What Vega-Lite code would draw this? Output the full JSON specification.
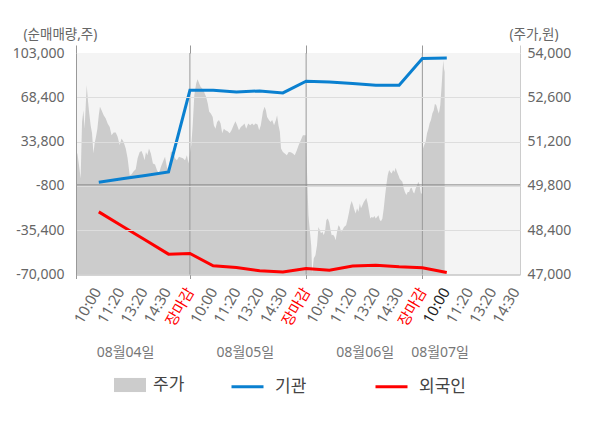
{
  "$schema": "https://vega.github.io/schema/vega-lite/v6.json",
  "autosize": {"type": "none"},
  "width": 444,
  "height": 221.5,
  "padding": {"left": 76, "top": 53, "right": 80, "bottom": 153.5},
  "background": "white",
  "config": {
    "font": "Noto Sans, Noto Sans CJK KR",
    "view": {"fill": "#f4f4f4", "stroke": null},
    "axis": {"labelFont": "Noto Sans, Noto Sans CJK KR", "titleFont": "Noto Sans, Noto Sans CJK KR"},
    "legend": {"labelFont": "Noto Sans, Noto Sans CJK KR"}
  },
  "datasets": {
    "price": [
      {"u":0.12,"p":50820,"s":"주가"},{"u":0.16,"p":50820,"s":"주가"},{"u":0.23,"p":50450,"s":"주가"},{"u":0.30,"p":50030,"s":"주가"},{"u":0.36,"p":51820,"s":"주가"},{"u":0.42,"p":52190,"s":"주가"},{"u":0.47,"p":51610,"s":"주가"},{"u":0.53,"p":52510,"s":"주가"},{"u":0.56,"p":52980,"s":"주가"},{"u":0.62,"p":52450,"s":"주가"},{"u":0.67,"p":52090,"s":"주가"},{"u":0.73,"p":51720,"s":"주가"},{"u":0.79,"p":51460,"s":"주가"},{"u":0.85,"p":50820,"s":"주가"},{"u":0.90,"p":51140,"s":"주가"},{"u":0.96,"p":51350,"s":"주가"},{"u":1.02,"p":51610,"s":"주가"},{"u":1.08,"p":52030,"s":"주가"},{"u":1.13,"p":52300,"s":"주가"},{"u":1.20,"p":52190,"s":"주가"},{"u":1.29,"p":52030,"s":"주가"},{"u":1.38,"p":51930,"s":"주가"},{"u":1.46,"p":51770,"s":"주가"},{"u":1.55,"p":51660,"s":"주가"},{"u":1.63,"p":51400,"s":"주가"},{"u":1.72,"p":51490,"s":"주가"},{"u":1.81,"p":51490,"s":"주가"},{"u":1.89,"p":51350,"s":"주가"},{"u":1.98,"p":51090,"s":"주가"},{"u":2.06,"p":51300,"s":"주가"},{"u":2.15,"p":51190,"s":"주가"},{"u":2.24,"p":50980,"s":"주가"},{"u":2.32,"p":50670,"s":"주가"},{"u":2.41,"p":50140,"s":"주가"},{"u":2.49,"p":50170,"s":"주가"},{"u":2.58,"p":50260,"s":"주가"},{"u":2.67,"p":50330,"s":"주가"},{"u":2.75,"p":50670,"s":"주가"},{"u":2.84,"p":50870,"s":"주가"},{"u":2.92,"p":50900,"s":"주가"},{"u":2.99,"p":50770,"s":"주가"},{"u":3.05,"p":50610,"s":"주가"},{"u":3.11,"p":50870,"s":"주가"},{"u":3.17,"p":50770,"s":"주가"},{"u":3.24,"p":50980,"s":"주가"},{"u":3.32,"p":50820,"s":"주가"},{"u":3.41,"p":50510,"s":"주가"},{"u":3.50,"p":50480,"s":"주가"},{"u":3.58,"p":50300,"s":"주가"},{"u":3.67,"p":50190,"s":"주가"},{"u":3.75,"p":50400,"s":"주가"},{"u":3.84,"p":50560,"s":"주가"},{"u":3.93,"p":50720,"s":"주가"},{"u":4.01,"p":50400,"s":"주가"},{"u":4.10,"p":50260,"s":"주가"},{"u":4.18,"p":50880,"s":"주가"},{"u":4.27,"p":50880,"s":"주가"},{"u":4.36,"p":50670,"s":"주가"},{"u":4.44,"p":50610,"s":"주가"},{"u":4.53,"p":50720,"s":"주가"},{"u":4.61,"p":50700,"s":"주가"},{"u":4.70,"p":50670,"s":"주가"},{"u":4.79,"p":50610,"s":"주가"},{"u":4.87,"p":50770,"s":"주가"},{"u":4.94,"p":50510,"s":"주가"},{"u":5.00,"p":50850,"s":"주가"},
      {"u":5.06,"p":51090,"s":"주가"},{"u":5.12,"p":51720,"s":"주가"},{"u":5.19,"p":52670,"s":"주가"},{"u":5.27,"p":53040,"s":"주가"},{"u":5.33,"p":53170,"s":"주가"},{"u":5.40,"p":53040,"s":"주가"},{"u":5.46,"p":52930,"s":"주가"},{"u":5.53,"p":52880,"s":"주가"},{"u":5.61,"p":52770,"s":"주가"},{"u":5.70,"p":52610,"s":"주가"},{"u":5.77,"p":52400,"s":"주가"},{"u":5.83,"p":52140,"s":"주가"},{"u":5.90,"p":52090,"s":"주가"},{"u":5.98,"p":51980,"s":"주가"},{"u":6.03,"p":51720,"s":"주가"},{"u":6.10,"p":51610,"s":"주가"},{"u":6.17,"p":51820,"s":"주가"},{"u":6.25,"p":51880,"s":"주가"},{"u":6.32,"p":51770,"s":"주가"},{"u":6.39,"p":51460,"s":"주가"},{"u":6.46,"p":51610,"s":"주가"},{"u":6.53,"p":51560,"s":"주가"},{"u":6.62,"p":51530,"s":"주가"},{"u":6.71,"p":51460,"s":"주가"},{"u":6.79,"p":51560,"s":"주가"},{"u":6.88,"p":51720,"s":"주가"},{"u":6.96,"p":51840,"s":"주가"},{"u":7.03,"p":51720,"s":"주가"},{"u":7.11,"p":51560,"s":"주가"},{"u":7.19,"p":51660,"s":"주가"},{"u":7.28,"p":51720,"s":"주가"},{"u":7.35,"p":51770,"s":"주가"},{"u":7.42,"p":51610,"s":"주가"},{"u":7.51,"p":51770,"s":"주가"},{"u":7.59,"p":51720,"s":"주가"},{"u":7.68,"p":51770,"s":"주가"},{"u":7.75,"p":51720,"s":"주가"},{"u":7.82,"p":51770,"s":"주가"},{"u":7.91,"p":51740,"s":"주가"},{"u":7.98,"p":51560,"s":"주가"},{"u":8.05,"p":51720,"s":"주가"},{"u":8.14,"p":52140,"s":"주가"},{"u":8.21,"p":52300,"s":"주가"},{"u":8.27,"p":52190,"s":"주가"},{"u":8.32,"p":51980,"s":"주가"},{"u":8.40,"p":51880,"s":"주가"},{"u":8.47,"p":51820,"s":"주가"},{"u":8.54,"p":51880,"s":"주가"},{"u":8.62,"p":51720,"s":"주가"},{"u":8.70,"p":51880,"s":"주가"},{"u":8.75,"p":52030,"s":"주가"},{"u":8.81,"p":51720,"s":"주가"},{"u":8.87,"p":51510,"s":"주가"},{"u":8.92,"p":50980,"s":"주가"},{"u":9.00,"p":50870,"s":"주가"},{"u":9.08,"p":50820,"s":"주가"},{"u":9.17,"p":50770,"s":"주가"},{"u":9.25,"p":50870,"s":"주가"},{"u":9.34,"p":50860,"s":"주가"},{"u":9.43,"p":50820,"s":"주가"},{"u":9.51,"p":50770,"s":"주가"},{"u":9.60,"p":50930,"s":"주가"},{"u":9.68,"p":51090,"s":"주가"},{"u":9.77,"p":51240,"s":"주가"},{"u":9.86,"p":51400,"s":"주가"},{"u":9.94,"p":51400,"s":"주가"},{"u":9.99,"p":51400,"s":"주가"},
      {"u":10.04,"p":50190,"s":"주가"},{"u":10.10,"p":48870,"s":"주가"},{"u":10.17,"p":48300,"s":"주가"},{"u":10.22,"p":47900,"s":"주가"},{"u":10.26,"p":47050,"s":"주가"},{"u":10.33,"p":47510,"s":"주가"},{"u":10.40,"p":47610,"s":"주가"},{"u":10.47,"p":47930,"s":"주가"},{"u":10.53,"p":48500,"s":"주가"},{"u":10.59,"p":48400,"s":"주가"},{"u":10.64,"p":48300,"s":"주가"},{"u":10.70,"p":48350,"s":"주가"},{"u":10.76,"p":48240,"s":"주가"},{"u":10.82,"p":48400,"s":"주가"},{"u":10.87,"p":48720,"s":"주가"},{"u":10.93,"p":48770,"s":"주가"},{"u":10.99,"p":48660,"s":"주가"},{"u":11.05,"p":48400,"s":"주가"},{"u":11.10,"p":48240,"s":"주가"},{"u":11.16,"p":48260,"s":"주가"},{"u":11.22,"p":48190,"s":"주가"},{"u":11.27,"p":48080,"s":"주가"},{"u":11.33,"p":48350,"s":"주가"},{"u":11.39,"p":48560,"s":"주가"},{"u":11.45,"p":48500,"s":"주가"},{"u":11.50,"p":48350,"s":"주가"},{"u":11.56,"p":48400,"s":"주가"},{"u":11.63,"p":48500,"s":"주가"},{"u":11.72,"p":48560,"s":"주가"},{"u":11.79,"p":48770,"s":"주가"},{"u":11.85,"p":48980,"s":"주가"},{"u":11.90,"p":49190,"s":"주가"},{"u":11.96,"p":49320,"s":"주가"},{"u":12.02,"p":49190,"s":"주가"},{"u":12.08,"p":49030,"s":"주가"},{"u":12.13,"p":48930,"s":"주가"},{"u":12.19,"p":49090,"s":"주가"},{"u":12.25,"p":48980,"s":"주가"},{"u":12.31,"p":49240,"s":"주가"},{"u":12.36,"p":49090,"s":"주가"},{"u":12.42,"p":49190,"s":"주가"},{"u":12.48,"p":49290,"s":"주가"},{"u":12.53,"p":49350,"s":"주가"},{"u":12.59,"p":49420,"s":"주가"},{"u":12.65,"p":49240,"s":"주가"},{"u":12.71,"p":48980,"s":"주가"},{"u":12.76,"p":48770,"s":"주가"},{"u":12.82,"p":48820,"s":"주가"},{"u":12.88,"p":48790,"s":"주가"},{"u":12.94,"p":48850,"s":"주가"},{"u":12.99,"p":48770,"s":"주가"},{"u":13.05,"p":48820,"s":"주가"},{"u":13.11,"p":48870,"s":"주가"},{"u":13.17,"p":48720,"s":"주가"},{"u":13.22,"p":48680,"s":"주가"},{"u":13.28,"p":48770,"s":"주가"},{"u":13.34,"p":49090,"s":"주가"},{"u":13.39,"p":49450,"s":"주가"},{"u":13.45,"p":49820,"s":"주가"},{"u":13.51,"p":50140,"s":"주가"},{"u":13.57,"p":50300,"s":"주가"},{"u":13.62,"p":50240,"s":"주가"},{"u":13.68,"p":50190,"s":"주가"},{"u":13.74,"p":50300,"s":"주가"},{"u":13.80,"p":50240,"s":"주가"},{"u":13.85,"p":50370,"s":"주가"},{"u":13.91,"p":50240,"s":"주가"},{"u":13.97,"p":50140,"s":"주가"},{"u":14.02,"p":50030,"s":"주가"},{"u":14.08,"p":49980,"s":"주가"},{"u":14.14,"p":49930,"s":"주가"},{"u":14.20,"p":49720,"s":"주가"},{"u":14.25,"p":49610,"s":"주가"},{"u":14.31,"p":49510,"s":"주가"},{"u":14.37,"p":49610,"s":"주가"},{"u":14.43,"p":49610,"s":"주가"},{"u":14.48,"p":49720,"s":"주가"},{"u":14.54,"p":49740,"s":"주가"},{"u":14.60,"p":49610,"s":"주가"},{"u":14.65,"p":49560,"s":"주가"},{"u":14.71,"p":49720,"s":"주가"},{"u":14.77,"p":49820,"s":"주가"},{"u":14.83,"p":49930,"s":"주가"},{"u":14.88,"p":49820,"s":"주가"},{"u":14.94,"p":49560,"s":"주가"},{"u":14.99,"p":49560,"s":"주가"},
      {"u":15.03,"p":50980,"s":"주가"},{"u":15.08,"p":51090,"s":"주가"},{"u":15.14,"p":51190,"s":"주가"},{"u":15.20,"p":51460,"s":"주가"},{"u":15.26,"p":51610,"s":"주가"},{"u":15.31,"p":51770,"s":"주가"},{"u":15.37,"p":51880,"s":"주가"},{"u":15.43,"p":52090,"s":"주가"},{"u":15.49,"p":52190,"s":"주가"},{"u":15.54,"p":52400,"s":"주가"},{"u":15.60,"p":52350,"s":"주가"},{"u":15.66,"p":52190,"s":"주가"},{"u":15.71,"p":52090,"s":"주가"},{"u":15.77,"p":52350,"s":"주가"},{"u":15.83,"p":52980,"s":"주가"},{"u":15.87,"p":53460,"s":"주가"},{"u":15.90,"p":53770,"s":"주가"},{"u":15.93,"p":53510,"s":"주가"},{"u":15.96,"p":53400,"s":"주가"}
    ],
    "flows": [
      {"u":1.08,"v":2000,"s":"기관"},{"u":2.08,"v":4700,"s":"기관"},{"u":3.08,"v":7400,"s":"기관"},{"u":4.08,"v":10100,"s":"기관"},{"u":5,"v":73900,"s":"기관"},{"u":6,"v":73900,"s":"기관"},{"u":7,"v":72600,"s":"기관"},{"u":8,"v":73400,"s":"기관"},{"u":9,"v":71800,"s":"기관"},{"u":10,"v":81000,"s":"기관"},{"u":11,"v":80400,"s":"기관"},{"u":12,"v":79200,"s":"기관"},{"u":13,"v":77850,"s":"기관"},{"u":14,"v":77850,"s":"기관"},{"u":15,"v":98700,"s":"기관"},{"u":16.05,"v":99000,"s":"기관"},
      {"u":1.08,"v":-21100,"s":"외국인"},{"u":2.08,"v":-32100,"s":"외국인"},{"u":3.08,"v":-43100,"s":"외국인"},{"u":4.08,"v":-54100,"s":"외국인"},{"u":5,"v":-53600,"s":"외국인"},{"u":6,"v":-63200,"s":"외국인"},{"u":7,"v":-64600,"s":"외국인"},{"u":8,"v":-67000,"s":"외국인"},{"u":9,"v":-68000,"s":"외국인"},{"u":10,"v":-65300,"s":"외국인"},{"u":11,"v":-66600,"s":"외국인"},{"u":12,"v":-63300,"s":"외국인"},{"u":13,"v":-62700,"s":"외국인"},{"u":14,"v":-64000,"s":"외국인"},{"u":15,"v":-64800,"s":"외국인"},{"u":16.05,"v":-68400,"s":"외국인"}
    ],
    "bounds": [{"b":5},{"b":10},{"b":15}]
  },
  "layer": [
    {
      "data": {"name": "price"},
      "mark": {"type": "area", "interpolate": "linear", "clip": true},
      "encoding": {
        "x": {"field": "u", "type": "quantitative",
          "scale": {"domain": [0.1, 19.2], "nice": false, "zero": false},
          "axis": {"orient": "bottom", "title": null,
            "values": [0.1,1,2,3,4,5,6,7,8,9,10,11,12,13,14,15,16,17,18,19],
            "labelExpr": "datum.value < 0.5 ? '' : ['장마감','10:00','11:20','13:20','14:30'][round(datum.value) % 5]",
            "labelAngle": -60, "labelAlign": "right", "labelBaseline": "middle",
            "labelFontSize": 15, "labelPadding": 10, "tickSize": 4,
            "tickColor": {"condition": {"test": "datum.value < 0.5 || round(datum.value) % 5 === 0", "value": "#999999"}, "value": "transparent"},
            "labelColor": {"condition": [{"test": "datum.value > 0.5 && round(datum.value) % 5 === 0", "value": "#ff0000"}, {"test": "round(datum.value) === 16", "value": "#222222"}], "value": "#666666"},
            "grid": false, "domain": true, "domainColor": "#aaaaaa",
            "labelOverlap": false, "labelBound": false, "labelFlush": false}
        },
        "y": {"field": "p", "type": "quantitative",
          "scale": {"domain": [47000, 54000], "nice": false, "zero": false},
          "axis": {"orient": "right", "values": [47000,48400,49800,51200,52600,54000],
            "labelExpr": "format(datum.value, ',')",
            "grid": false, "ticks": false, "domain": true, "domainColor": "#cccccc",
            "labelPadding": 7, "labelFontSize": 14, "labelColor": "#666666",
            "title": "(주가,원)", "titleAngle": 0, "titleX": -11, "titleY": -19,
            "titleAlign": "left", "titleBaseline": "middle", "titleFontSize": 13.5,
            "titleFontWeight": "normal", "titleColor": "#666666"}
        },
        "y2": {"datum": 47000},
        "fill": {"field": "s", "type": "nominal",
          "scale": {"domain": ["주가"], "range": ["#cccccc"]},
          "legend": {"orient": "none", "legendX": 38, "legendY": 316, "title": null,
            "symbolType": "M-1,-0.44H1V0.44H-1Z", "symbolSize": 1024, "symbolStrokeWidth": 0,
            "labelFontSize": 17, "labelColor": "#444444", "labelOffset": 7, "padding": 0}
        }
      }
    },
    {
      "layer": [
        {
          "data": {"name": "bounds"},
          "mark": {"type": "rule", "color": "#999999", "strokeWidth": 1},
          "encoding": {
            "x": {"field": "b", "type": "quantitative",
              "scale": {"domain": [0.1, 19.2], "nice": false, "zero": false},
              "axis": {"orient": "top", "values": [0.1, 5, 10, 15, 19.2], "labels": false,
                "ticks": true, "tickSize": 8,
                "tickColor": {"condition": {"test": "datum.value > 19", "value": "#cccccc"}, "value": "#999999"},
                "domain": false, "grid": false, "title": null}
            }
          }
        },
        {
          "data": {"values": [{}]},
          "mark": {"type": "rule", "color": "#888888", "strokeWidth": 1},
          "encoding": {"y": {"datum": 0}}
        },
        {
          "data": {"name": "flows"},
          "mark": {"type": "line", "strokeWidth": 3},
          "encoding": {
            "x": {"field": "u", "type": "quantitative",
              "scale": {"domain": [0.1, 19.2], "nice": false, "zero": false},
              "axis": {"orient": "bottom", "offset": 78, "values": [2.21, 7.36, 12.52, 15.74],
                "labelExpr": "datum.value < 5 ? '08월04일' : datum.value < 10 ? '08월05일' : datum.value < 15 ? '08월06일' : '08월07일'",
                "ticks": false, "tickSize": 0, "domain": false, "grid": false,
                "labelPadding": 0, "labelAngle": 0, "labelAlign": "center", "labelBaseline": "middle",
                "labelFontSize": 14, "labelColor": "#777777", "title": null,
                "labelOverlap": false, "labelBound": false, "labelFlush": false}
            },
            "y": {"field": "v", "type": "quantitative",
              "scale": {"domain": [-70000, 103000], "nice": false, "zero": false},
              "axis": {"orient": "left", "values": [-70000,-35400,-800,33800,68400,103000],
                "labelExpr": "(datum.value < 0 ? '-' : '') + format(abs(datum.value), ',')",
                "zindex": 1, "grid": true,
                "gridColor": {"condition": {"test": "datum.value === 103000 || datum.value === -70000", "value": "transparent"}, "value": "#dddddd"},
                "ticks": false, "domain": true, "domainColor": "#999999",
                "labelPadding": 12, "labelFontSize": 14, "labelColor": "#666666",
                "title": "(순매매량,주)", "titleAngle": 0, "titleX": -53, "titleY": -19,
                "titleAlign": "left", "titleBaseline": "middle", "titleFontSize": 13.5,
                "titleFontWeight": "normal", "titleColor": "#666666"}
            },
            "stroke": {"field": "s", "type": "nominal",
              "scale": {"domain": ["기관", "외국인"], "range": ["#0a80d0", "#ff0000"]},
              "legend": {"orient": "none", "direction": "horizontal", "legendX": 154, "legendY": 316, "title": null,
                "symbolType": "stroke", "symbolSize": 1024, "symbolStrokeWidth": 3,
                "labelFontSize": 17, "labelColor": "#444444", "labelOffset": 10, "columnPadding": 62, "padding": 0}
            }
          }
        }
      ],
      "resolve": {"axis": {"x": "independent"}}
    }
  ],
  "resolve": {"scale": {"y": "independent"}, "axis": {"x": "independent"}}
}
